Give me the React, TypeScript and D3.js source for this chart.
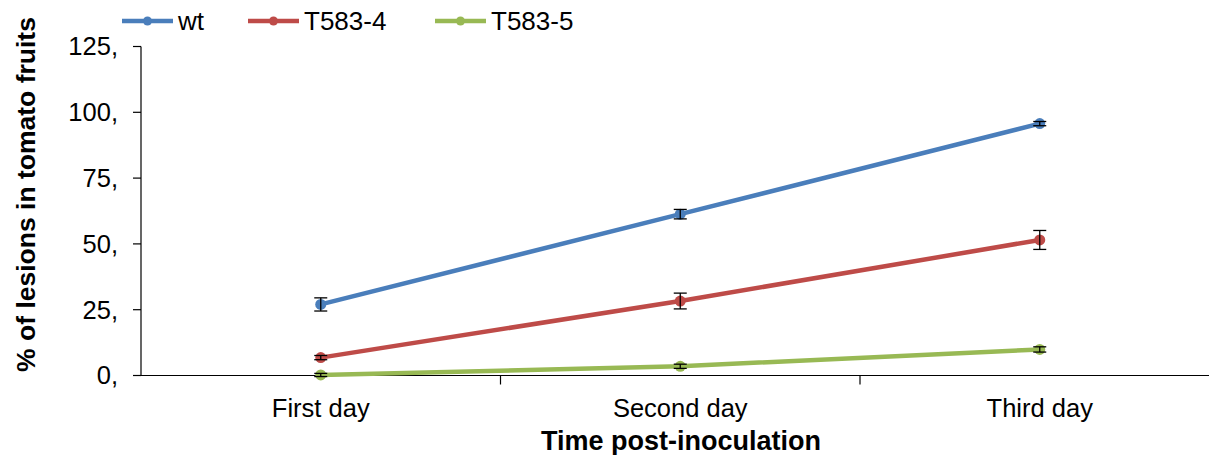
import React from "react";
import * as d3 from "d3";

const categories = ["First day", "Second day", "Third day"];
const seriesNames = ["wt", "T583-4", "T583-5"];
const seriesColors = ["#4a7ebb", "#be4b48", "#98b954"];
const wtValues = [27, 61.3, 95.7];
const wtErrors = [2.5, 1.8, 0.8];
const t4Values = [6.8, 28.3, 51.5];
const t4Errors = [0.8, 3, 3.6];
const t5Values = [0.2, 3.5, 9.9];
const t5Errors = [0.6, 0.8, 1];
const yTicks = [0, 25, 50, 75, 100, 125];
const yTickLabels = ["0,", "25,", "50,", "75,", "100,", "125,"];

const W = 1209;
const H = 455;

export default function App() {
  const left = 141;
  const bandW = 359.5;
  const x = d3
    .scaleBand<string>()
    .domain(categories)
    .range([left, left + bandW * categories.length])
    .paddingInner(0)
    .paddingOuter(0);
  const y = d3.scaleLinear().domain([0, 125]).range([375.5, 46.5]);
  const cx = (c: string) => (x(c) as number) + x.bandwidth() / 2;

  const series = [
    { name: seriesNames[0], color: seriesColors[0], v: wtValues, e: wtErrors },
    { name: seriesNames[1], color: seriesColors[1], v: t4Values, e: t4Errors },
    { name: seriesNames[2], color: seriesColors[2], v: t5Values, e: t5Errors },
  ];
  const line = d3
    .line<number>()
    .x((_, i) => cx(categories[i]))
    .y((d) => y(d));

  const font = "Arial, 'Liberation Sans', sans-serif";
  const legendX = [122, 248, 435];

  return (
    <svg
      width={W}
      height={H}
      style={{ position: "absolute", left: 0, top: 0, background: "#fff" }}
      fontFamily={font}
    >
      {/* y axis */}
      <line x1={left} x2={left} y1={y(125)} y2={y(0)} stroke="#000" strokeWidth={1.2} />
      {yTicks.map((t, i) => (
        <g key={t}>
          <line x1={left - 8} x2={left} y1={y(t)} y2={y(t)} stroke="#000" strokeWidth={1.2} />
          <text x={118} y={y(t)} dy="0.35em" textAnchor="end" fontSize={25.5}>
            {yTickLabels[i]}
          </text>
        </g>
      ))}
      {/* x axis */}
      <line x1={left - 8} x2={W} y1={y(0)} y2={y(0)} stroke="#000" strokeWidth={1.2} />
      {categories.map((c, i) => (
        <g key={c}>
          {i > 0 && (
            <line
              x1={x(c) as number}
              x2={x(c) as number}
              y1={y(0)}
              y2={y(0) + 9}
              stroke="#000"
              strokeWidth={1.2}
            />
          )}
          <text x={cx(c)} y={417} textAnchor="middle" fontSize={25.5}>
            {c}
          </text>
        </g>
      ))}
      {/* series */}
      {series.map((s) => (
        <g key={s.name}>
          <path d={line(s.v) as string} fill="none" stroke={s.color} strokeWidth={4.5} />
          {s.v.map((v, i) => {
            const px = cx(categories[i]);
            return (
              <g key={i}>
                <circle cx={px} cy={y(v)} r={5.5} fill={s.color} />
                <line x1={px} x2={px} y1={y(v - s.e[i])} y2={y(v + s.e[i])} stroke="#000" strokeWidth={1.3} />
                <line x1={px - 6.5} x2={px + 6.5} y1={y(v - s.e[i])} y2={y(v - s.e[i])} stroke="#000" strokeWidth={1.3} />
                <line x1={px - 6.5} x2={px + 6.5} y1={y(v + s.e[i])} y2={y(v + s.e[i])} stroke="#000" strokeWidth={1.3} />
              </g>
            );
          })}
        </g>
      ))}
      {/* legend */}
      {series.map((s, i) => (
        <g key={s.name} transform={`translate(${legendX[i]},21)`}>
          <line x1={0} x2={51} y1={0} y2={0} stroke={s.color} strokeWidth={4.5} />
          <circle cx={25.5} cy={0} r={4.5} fill={s.color} />
          <text x={56} y={0} dy="0.35em" fontSize={26}>
            {s.name}
          </text>
        </g>
      ))}
      {/* axis titles */}
      <text
        transform={`translate(35,${194.5}) rotate(-90)`}
        textAnchor="middle"
        fontSize={26.5}
        fontWeight="bold"
      >
        % of lesions in tomato fruits
      </text>
      <text x={681} y={450} textAnchor="middle" fontSize={27}>
        <tspan fontWeight="bold">Time post-inoculation</tspan>
      </text>
    </svg>
  );
}
